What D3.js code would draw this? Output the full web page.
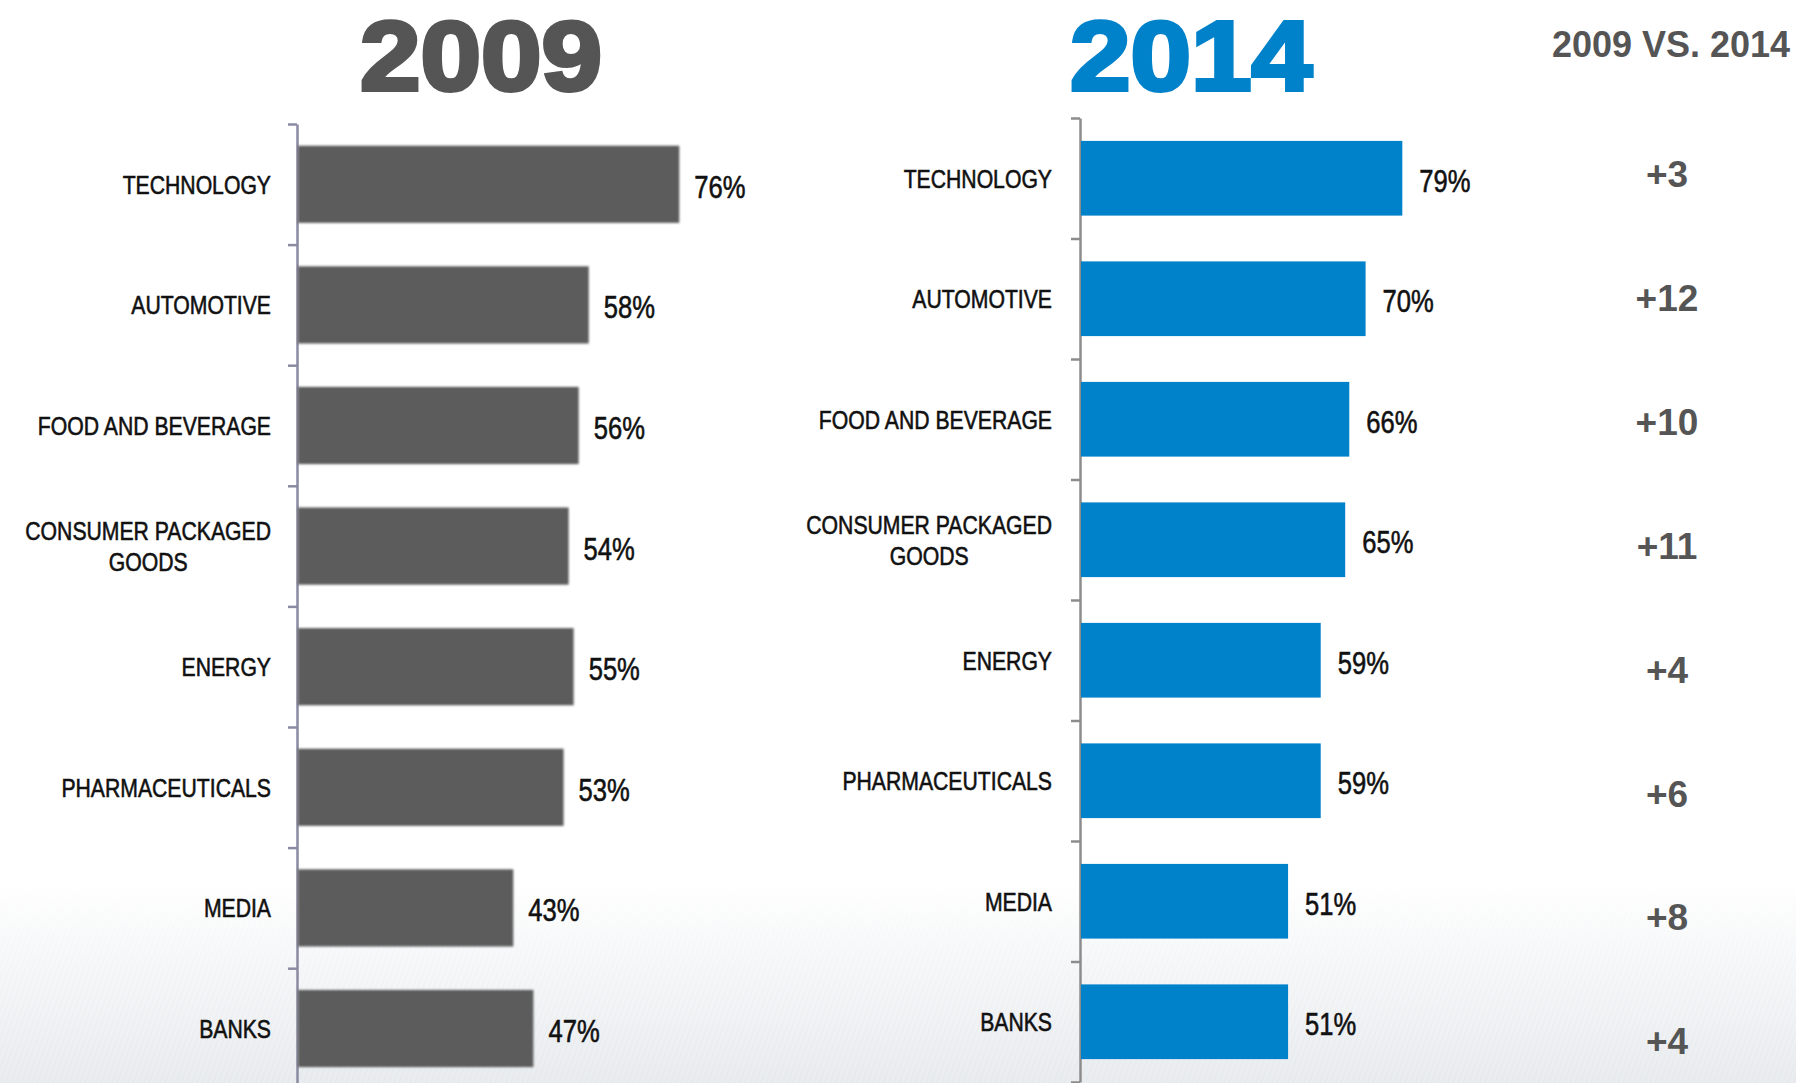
<!DOCTYPE html>
<html>
<head>
<meta charset="utf-8">
<script src="https://cdn.jsdelivr.net/npm/d3@7"></script>
<style>
  html, body { margin: 0; padding: 0; background: #ffffff; }
  svg { display: block; }
  .cat { font-family: "Liberation Sans", Arial, sans-serif; font-size: 26.5px; fill: #111; stroke: #111; stroke-width: 0.6px; }
  .val { font-family: "Liberation Sans", Arial, sans-serif; font-size: 32px; fill: #111; stroke: #111; stroke-width: 0.6px; }
  .title { font-family: "Liberation Sans", Arial, sans-serif; font-weight: bold; font-size: 99px; }
  .delta { font-family: "Liberation Sans", Arial, sans-serif; font-weight: bold; font-size: 37px; fill: #555; }
  .head { font-family: "Liberation Sans", Arial, sans-serif; font-weight: bold; font-size: 36px; fill: #555; }
</style>
</head>
<body>
<svg id="chart" width="1796" height="1083"></svg>
<script>
// Industry categories (line breaks mark wrapped labels)
const categories = [
  "TECHNOLOGY",
  "AUTOMOTIVE",
  "FOOD AND BEVERAGE",
  "CONSUMER PACKAGED\nGOODS",
  "ENERGY",
  "PHARMACEUTICALS",
  "MEDIA",
  "BANKS"
];
const values2009 = [76, 58, 56, 54, 55, 53, 43, 47];
const values2014 = [79, 70, 66, 65, 59, 59, 51, 51];
const years = ["2009", "2014"];
const compareHeading = "2009 VS. 2014";

const W = 1796, H = 1083;
const NARROW = 0.8; // horizontal squeeze for the condensed label face
const svg = d3.select("#chart");
const defs = svg.append("defs");

// Soft edge for the grey bars
defs.append("filter").attr("id", "soft")
  .attr("x", "-5%").attr("y", "-10%").attr("width", "110%").attr("height", "120%")
  .append("feGaussianBlur").attr("stdDeviation", 1.1);

// Faint lower backdrop
const grad = defs.append("linearGradient").attr("id", "floor")
  .attr("x1", 0).attr("y1", 0).attr("x2", 0).attr("y2", 1);
grad.append("stop").attr("offset", "0%").attr("stop-color", "#ffffff");
grad.append("stop").attr("offset", "100%").attr("stop-color", "#e9ecef");
const hatch = defs.append("pattern").attr("id", "hatch")
  .attr("width", 5).attr("height", 5).attr("patternUnits", "userSpaceOnUse")
  .attr("patternTransform", "rotate(20)");
hatch.append("line").attr("x1", 0).attr("y1", 0).attr("x2", 0).attr("y2", 5)
  .attr("stroke", "#d5dade").attr("stroke-width", 1);
const fade = defs.append("linearGradient").attr("id", "fade")
  .attr("x1", 0).attr("y1", 0).attr("x2", 0).attr("y2", 1);
fade.append("stop").attr("offset", "0%").attr("stop-color", "#fff").attr("stop-opacity", 0);
fade.append("stop").attr("offset", "100%").attr("stop-color", "#fff").attr("stop-opacity", 0.8);
defs.append("mask").attr("id", "fadeMask")
  .append("rect").attr("x", 0).attr("y", 880).attr("width", W).attr("height", H - 880)
  .attr("fill", "url(#fade)");

svg.append("rect").attr("width", W).attr("height", H).attr("fill", "#fff");
svg.append("rect").attr("x", 0).attr("y", 880).attr("width", W).attr("height", H - 880)
  .attr("fill", "url(#floor)");
svg.append("rect").attr("x", 0).attr("y", 880).attr("width", W).attr("height", H - 880)
  .attr("fill", "url(#hatch)").attr("mask", "url(#fadeMask)").attr("opacity", 0.6);

function panel(opts) {
  const { values, x0, pxPerHundred, top, step, padding, barColor, axisColor,
          labelRight, valGap, soft } = opts;
  const g = svg.append("g");
  const bottom = top + step * categories.length;

  const y = d3.scaleBand().domain(categories).range([top, bottom])
    .paddingInner(padding).paddingOuter(padding / 2);
  const x = d3.scaleLinear().domain([0, 100]).range([x0, x0 + pxPerHundred]);

  // Axis line with ticks at band boundaries
  const edges = d3.scaleLinear().domain([0, categories.length]).range([top, bottom]);
  const axis = d3.axisLeft(edges).tickValues(d3.range(categories.length + 1))
    .tickFormat("").tickSize(9).tickSizeOuter(0);
  const ag = g.append("g").attr("transform", `translate(${x0},0)`).call(axis);
  ag.selectAll("path, line").attr("stroke", axisColor).attr("stroke-width", 2.5);

  const rows = categories.map((c, i) => ({ c, v: values[i] }));

  g.append("g").selectAll("rect").data(rows).join("rect")
    .attr("x", x(0) + 1)
    .attr("y", d => y(d.c))
    .attr("width", d => x(d.v) - x(0) - 1)
    .attr("height", y.bandwidth())
    .attr("fill", barColor)
    .attr("filter", soft ? "url(#soft)" : null);

  g.append("g").selectAll("text").data(rows).join("text")
    .attr("class", "val")
    .attr("transform", d => `translate(${x(d.v) + valGap},${y(d.c) + y.bandwidth() / 2 + 2}) scale(${NARROW},1)`)
    .attr("dy", "0.36em")
    .text(d => d.v + "%");

  // Category labels: single lines right-aligned, wrapped lines centred on the block
  rows.forEach(d => {
    const lines = d.c.split("\n");
    const cy = y(d.c) + y.bandwidth() / 2;
    const t = g.append("text").attr("class", "cat")
      .attr("transform", `translate(${labelRight},${cy}) scale(${NARROW},1)`);
    if (lines.length === 1) {
      t.attr("text-anchor", "end").attr("dy", "0.36em").text(lines[0]);
    } else {
      const lh = 31;
      t.attr("text-anchor", "middle");
      lines.forEach((ln, k) => {
        t.append("tspan").attr("x", 0).attr("y", (k - (lines.length - 1) / 2) * lh)
          .attr("dy", "0.36em").text(ln);
      });
      const wmax = d3.max(t.selectAll("tspan").nodes(), n => n.getComputedTextLength());
      t.selectAll("tspan").attr("x", -wmax / 2);
    }
  });
  return { x, y };
}

panel({
  values: values2009, x0: 297, pxPerHundred: 503, top: 124, step: 120.6, padding: 0.36,
  barColor: "#5b5b5b", axisColor: "#8a8aa2", labelRight: 271, valGap: 15, soft: true
});
panel({
  values: values2014, x0: 1080, pxPerHundred: 408, top: 118, step: 120.5, padding: 0.38,
  barColor: "#0082ca", axisColor: "#8c8c8c", labelRight: 1052, valGap: 17, soft: false
});

// Year headings (heavy, slightly widened)
svg.append("text").attr("class", "title").attr("transform", "translate(481,90) scale(1.1,1)")
  .attr("text-anchor", "middle").attr("fill", "#555").attr("stroke", "#555").attr("stroke-width", 4)
  .text(years[0]);
svg.append("text").attr("class", "title").attr("transform", "translate(1191,90) scale(1.1,1)")
  .attr("text-anchor", "middle").attr("fill", "#0082ca").attr("stroke", "#0082ca").attr("stroke-width", 4)
  .text(years[1]);

// Change column
svg.append("text").attr("class", "head").attr("x", 1671).attr("y", 57)
  .attr("text-anchor", "middle").text(compareHeading);

const deltaY = d3.scalePoint().domain(categories).range([174, 1041]);
svg.append("g").selectAll("text").data(categories).join("text")
  .attr("class", "delta")
  .attr("x", 1667)
  .attr("y", c => deltaY(c))
  .attr("dy", "0.36em")
  .attr("text-anchor", "middle")
  .text((c, i) => {
    const d = values2014[i] - values2009[i];
    return (d >= 0 ? "+" : "") + d;
  });
</script>
</body>
</html>
